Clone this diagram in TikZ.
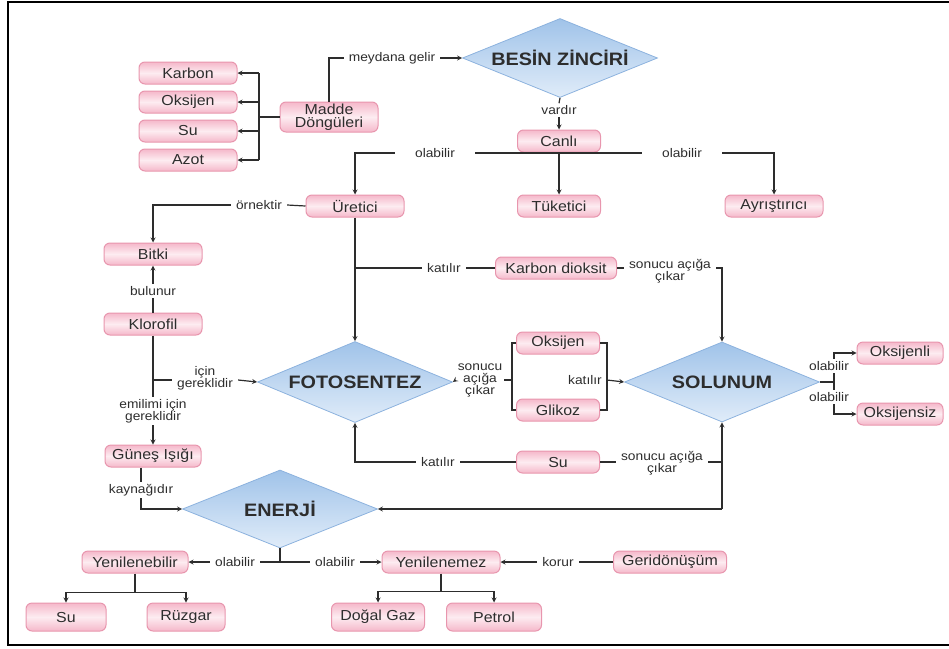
\documentclass[tikz,border=0pt]{standalone}
\usepackage{fontspec}
\setmainfont{Liberation Sans}[FakeStretch=1.1]
\usetikzlibrary{shapes.geometric}

\definecolor{kutupembe}{RGB}{245,184,202}
\definecolor{kutuacik}{RGB}{253,236,241}
\definecolor{kutukenar}{RGB}{232,150,174}
\definecolor{elmasmavi}{RGB}{160,195,233}
\definecolor{elmasacik}{RGB}{224,236,249}
\definecolor{elmaskenar}{RGB}{140,178,222}
\definecolor{cizgi}{RGB}{45,45,45}

\begin{document}
\begin{tikzpicture}[x=1pt, y=-1pt, >=stealth,
    kutu/.style={draw=kutukenar, line width=1pt, rounded corners=6pt, top color=kutupembe, bottom color=kutupembe, middle color=kutuacik, minimum width=98pt, minimum height=22pt, inner sep=1pt, font=\fontsize{14.5}{13}\selectfont, text=cizgi, align=center},
    elmas/.style={diamond, shape aspect=2.5, draw=elmaskenar, line width=0.8pt, top color=elmasmavi, bottom color=elmasacik, minimum width=195pt, minimum height=79pt, inner sep=0pt, font=\fontsize{18}{18}\selectfont\bfseries, text=cizgi},
    etiket/.style={inner xsep=5pt, inner ysep=2pt, font=\fontsize{12.5}{12}\selectfont, text=cizgi, align=center},
    ok/.style={->, line width=1.2pt, draw=cizgi},
    hat/.style={line width=1.2pt, draw=cizgi}]
    \useasboundingbox (0,0) rectangle (949,648);
    % frame
    \draw[line width=2.5pt] (949,2) -- (8,2) -- (8,645) -- (949,645);

    % main concepts
    \node[elmas] (besin) at (560,58) {BESİN ZİNCİRİ};
    \node[elmas, minimum height=81pt] (fotosentez) at (355,382) {FOTOSENTEZ};
    \node[elmas, minimum height=80pt] (solunum) at (722,382) {SOLUNUM};
    \node[elmas, minimum height=78pt] (enerji) at (280,509) {ENERJİ};

    % boxes
    \node[kutu, minimum height=30pt] (madde) at (329,117) {Madde\\Döngüleri};
    \node[kutu] (karbon) at (188,73) {Karbon};
    \node[kutu] (oksijen) at (188,102) {Oksijen};
    \node[kutu] (suA) at (188,131) {Su};
    \node[kutu] (azot) at (188,160) {Azot};
    \node[kutu, minimum width=83pt] (canli) at (559,141) {Canlı};
    \node[kutu] (uretici) at (355,206) {Üretici};
    \node[kutu, minimum width=83pt] (tuketici) at (559,206) {Tüketici};
    \node[kutu] (ayristirici) at (774,206) {Ayrıştırıcı};
    \node[kutu] (bitki) at (153,254) {Bitki};
    \node[kutu] (klorofil) at (153,324) {Klorofil};
    \node[kutu, minimum width=96pt] (gunes) at (153,456) {Güneş Işığı};
    \node[kutu, minimum width=121pt] (karbondioksit) at (556,268) {Karbon dioksit};
    \node[kutu, minimum width=83pt] (oksijenB) at (558,343) {Oksijen};
    \node[kutu, minimum width=83pt] (glikoz) at (558,410) {Glikoz};
    \node[kutu, minimum width=83pt] (suB) at (558,462) {Su};
    \node[kutu, minimum width=86pt] (oksijenli) at (900,353) {Oksijenli};
    \node[kutu, minimum width=86pt] (oksijensiz) at (900,414) {Oksijensiz};
    \node[kutu, minimum width=106pt] (yenilenebilir) at (135,562) {Yenilenebilir};
    \node[kutu, minimum width=118pt] (yenilenemez) at (441,562) {Yenilenemez};
    \node[kutu, minimum width=113pt] (geri) at (670,562) {Geridönüşüm};
    \node[kutu, minimum width=80pt, minimum height=28pt] (suC) at (66,617) {Su};
    \node[kutu, minimum width=78pt, minimum height=28pt] (ruzgar) at (186,617) {Rüzgar};
    \node[kutu, minimum width=93pt, minimum height=28pt] (dogalgaz) at (378,617) {Doğal Gaz};
    \node[kutu, minimum width=95pt, minimum height=28pt] (petrol) at (494,617) {Petrol};

    % link labels
    \node[etiket] (meydana) at (392,58) {meydana gelir};
    \node[etiket] (vardir) at (559,110) {vardır};
    \node[etiket, inner xsep=20pt] (olabilirA) at (435,153) {olabilir};
    \node[etiket, inner xsep=20pt] (olabilirB) at (682,153) {olabilir};
    \node[etiket] (ornektir) at (259,205) {örnektir};
    \node[etiket] (katilirA) at (444,268) {katılır};
    \node[etiket] (sonucuA) at (670,271) {sonucu açığa\\çıkar};
    \node[etiket] (bulunur) at (153,291) {bulunur};
    \node[etiket] (icin) at (205,378) {için\\gereklidir};
    \node[etiket] (emilimi) at (153,411) {emilimi için\\gereklidir};
    \node[etiket, inner xsep=2pt] (sonucuB) at (480,380) {sonucu\\açığa\\çıkar};
    \node[etiket, anchor=east] (katilirB) at (607,380) {katılır};
    \node[etiket] (katilirC) at (438,462) {katılır};
    \node[etiket] (sonucuC) at (662,463) {sonucu açığa\\çıkar};
    \node[etiket] (kaynak) at (141,490) {kaynağıdır};
    \node[etiket] (olabilirE) at (235,562) {olabilir};
    \node[etiket] (olabilirF) at (335,562) {olabilir};
    \node[etiket] (korur) at (558,562) {korur};

    % madde dongüleri
    \coordinate (kolA) at (259,117);
    \draw[hat] (madde.west) -- (kolA);
    \draw[hat] (kolA |- karbon) -- (kolA |- azot);
    \draw[ok] (kolA |- karbon) -- (karbon.east);
    \draw[ok] (kolA |- oksijen) -- (oksijen.east);
    \draw[ok] (kolA |- suA) -- (suA.east);
    \draw[ok] (kolA |- azot) -- (azot.east);
    \draw[hat] (madde.north) |- (meydana.west);
    \draw[ok] (meydana.east) -- (besin.west);

    % besin zinciri and canli
    \draw[hat] (besin.south) -- (vardir.north);
    \draw[ok] (vardir.south) -- (canli.north);
    \draw[hat] (olabilirA.east) -- (olabilirB.west);
    \draw[ok] (olabilirA.west) -| (uretici.north);
    \draw[ok] (olabilirB.east) -| (ayristirici.north);
    \draw[ok] (canli.south) -- (tuketici.north);

    % uretici, bitki, klorofil
    \draw[hat] (uretici.west) -- (ornektir.east);
    \draw[ok] (ornektir.west) -| (bitki.north);
    \draw[hat] (klorofil.north) -- (bulunur.south);
    \draw[ok] (bulunur.north) -- (bitki.south);
    \coordinate (kolK) at (153,380);
    \draw[hat] (klorofil.south) -- (emilimi.north);
    \draw[hat] (kolK) -- (icin.west |- kolK);
    \draw[ok] (icin.east |- kolK) -- (fotosentez.west);
    \draw[ok] (emilimi.south) -- (gunes.north);
    \draw[hat] (kaynak.north |- gunes.south) -- (kaynak.north);
    \draw[ok] (kaynak.south) |- (enerji.west);

    % fotosentez
    \draw[ok] (uretici.south) -- (fotosentez.north);
    \draw[hat] (katilirA.west) -- (uretici.south |- katilirA);
    \draw[hat] (katilirA.east) -- (karbondioksit.west);
    \draw[hat] (karbondioksit.east) -- (sonucuA.west |- karbondioksit);
    \draw[ok] (sonucuA.east |- karbondioksit) -| (solunum.north);

    % brackets round oksijen and glikoz
    \coordinate (kolB) at (512,380);
    \coordinate (kolC) at (607,380);
    \draw[hat] (oksijenB.west) -| (kolB) |- (glikoz.west);
    \draw[hat] (kolB) -- (sonucuB.east);
    \draw[ok] (sonucuB.west) -- (fotosentez.east);
    \draw[hat] (oksijenB.east) -| (kolC) |- (glikoz.east);
    \draw[ok] (kolC) -- (solunum.west);

    % su and enerji
    \draw[hat] (suB.west) -- (katilirC.east);
    \draw[ok] (katilirC.west) -| (fotosentez.south);
    \draw[hat] (suB.east) -- (sonucuC.west |- suB);
    \draw[hat] (sonucuC.east |- suB) -- (solunum.south |- suB);
    \draw[ok] (solunum.south |- enerji) -- (solunum.south);
    \draw[ok] (solunum.south |- enerji) -- (enerji.east);

    % solunum types
    \coordinate (kolD) at (834,382);
    \draw[hat] (solunum.east) -- (kolD);
    \draw[ok] (kolD) |- (oksijenli.west);
    \draw[ok] (kolD) |- (oksijensiz.west);
    \node[etiket, fill=white, inner xsep=1pt] (olabilirC) at (829,366) {olabilir};
    \node[etiket, fill=white, inner xsep=1pt] (olabilirD) at (829,397) {olabilir};

    % enerji types
    \draw[hat] (enerji.south) -- (enerji.south |- olabilirE);
    \draw[hat] (olabilirE.east) -- (olabilirF.west);
    \draw[ok] (olabilirE.west) -- (yenilenebilir.east);
    \draw[ok] (olabilirF.east) -- (yenilenemez.west);
    \draw[hat] (geri.west) -- (korur.east);
    \draw[ok] (korur.west) -- (yenilenemez.east);
    \draw[hat] (yenilenebilir.south) -- ++(0,19) coordinate (kolF);
    \draw[ok] (kolF) -| (suC.north);
    \draw[ok] (kolF) -| (ruzgar.north);
    \draw[hat] (yenilenemez.south) -- ++(0,18) coordinate (kolG);
    \draw[ok] (kolG) -| (dogalgaz.north);
    \draw[ok] (kolG) -| (petrol.north);
\end{tikzpicture}
\end{document}
